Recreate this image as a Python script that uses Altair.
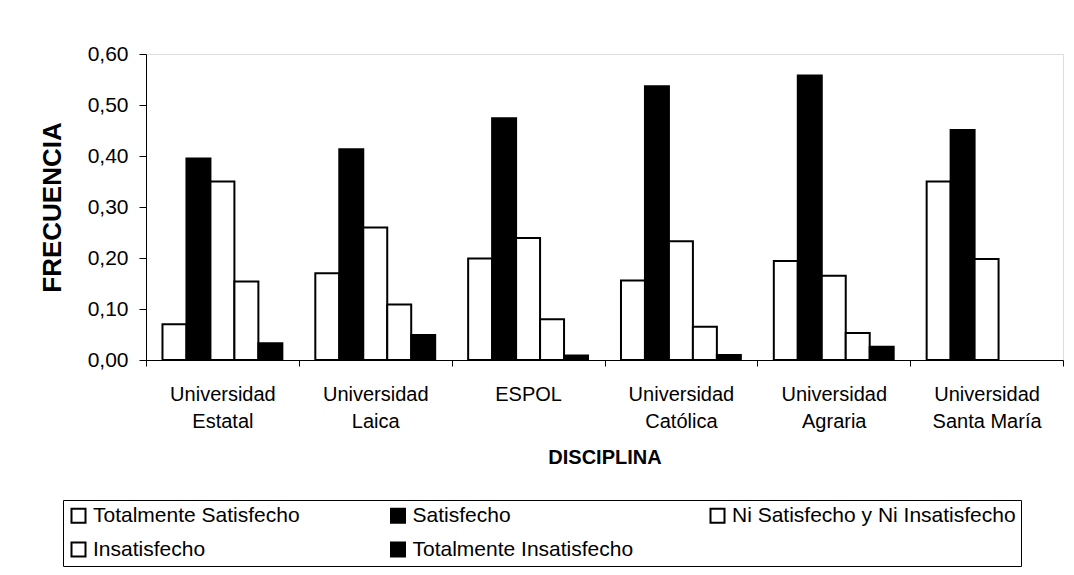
import altair as alt
import pandas as pd

universidades = ["Universidad Estatal", "Universidad Laica", "ESPOL",
                 "Universidad Católica", "Universidad Agraria", "Universidad Santa María"]
categorias = ["Totalmente Satisfecho", "Satisfecho", "Ni Satisfecho y Ni Insatisfecho",
              "Insatisfecho", "Totalmente Insatisfecho"]

totalmente_satisfecho = [0.070, 0.170, 0.199, 0.156, 0.194, 0.350]
satisfecho = [0.395, 0.413, 0.474, 0.537, 0.558, 0.451]
ni_ni = [0.350, 0.260, 0.239, 0.233, 0.165, 0.198]
insatisfecho = [0.154, 0.109, 0.080, 0.065, 0.053, 0.0]
totalmente_insatisfecho = [0.033, 0.049, 0.009, 0.010, 0.026, 0.0]

series = [totalmente_satisfecho, satisfecho, ni_ni, insatisfecho, totalmente_insatisfecho]
colores = ["white", "black", "white", "white", "black"]

rows = []
for cat, vals in zip(categorias, series):
    for uni, v in zip(universidades, vals):
        rows.append({"uni": uni, "cat": cat, "v": v})
df = pd.DataFrame(rows)

FONT = "Liberation Sans, Arial, sans-serif"

label_expr = ("indexof(datum.label, ' ') > 0 ? "
              "[substring(datum.label, 0, indexof(datum.label, ' ')), "
              "substring(datum.label, indexof(datum.label, ' ') + 1)] : datum.label")

chart = alt.Chart(df).transform_filter("datum.v > 0").mark_bar(
    stroke="black", strokeWidth=2, opacity=1
).encode(
    x=alt.X("uni:N", sort=universidades,
            scale=alt.Scale(paddingInner=0, paddingOuter=0),
            axis=alt.Axis(title="DISCIPLINA", labelAngle=0, labelExpr=label_expr,
                          labelFont=FONT, labelFontSize=20, labelLineHeight=27,
                          labelColor="black", labelPadding=18, labelBaseline="top",
                          tickSize=6, tickColor="black", tickBand="extent",
                          domainColor="black", domainWidth=1,
                          titleFont=FONT, titleFontSize=20, titleFontWeight="bold",
                          titleColor="black", titlePadding=16, labelLimit=300)),
    xOffset=alt.XOffset("cat:N", sort=categorias,
                        scale=alt.Scale(domain=categorias, paddingInner=0, paddingOuter=0.6875)),
    y=alt.Y("v:Q", scale=alt.Scale(domain=[0, 0.6], nice=False),
            axis=alt.Axis(title="FRECUENCIA", values=[0, 0.1, 0.2, 0.3, 0.4, 0.5, 0.6],
                          labelExpr="replace(format(datum.value, '.2f'), '.', ',')",
                          labelFont=FONT, labelFontSize=21, labelColor="black",
                          labelPadding=11, tickSize=7, tickColor="black",
                          domainColor="black", domainWidth=1, grid=False,
                          titleFont=FONT, titleFontSize=26, titleFontWeight="bold",
                          titleColor="black", titlePadding=22)),
    color=alt.Color("cat:N", sort=categorias,
                    scale=alt.Scale(domain=categorias, range=colores),
                    legend=alt.Legend(title=None, orient="none", legendX=-83, legendY=446,
                                      direction="horizontal",
                                      columns=3, gridAlign="all", columnPadding=9.5,
                                      rowPadding=11, padding=5, strokeColor="black",
                                      symbolType="square", symbolSize=196,
                                      symbolStrokeColor="black", symbolStrokeWidth=2,
                                      labelFont=FONT, labelFontSize=21, labelColor="black",
                                      labelLimit=500, labelOffset=4)),
).properties(
    width=917, height=306,
    autosize=alt.AutoSizeParams(type="none"),
    padding={"left": 138, "top": 46, "right": 3, "bottom": 208},
).configure_view(stroke=None).configure(background="white")

chart.save("out.html", embed_options={"renderer": "svg", "actions": False})
